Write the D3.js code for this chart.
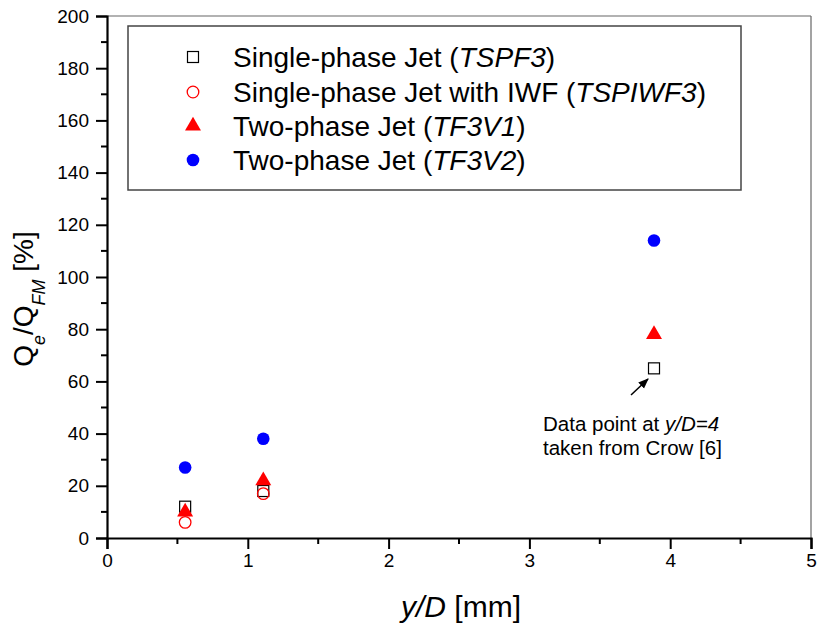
<!DOCTYPE html>
<html><head><meta charset="utf-8">
<script src="https://cdn.jsdelivr.net/npm/d3@7"></script>
<style>body{margin:0;background:#fff}svg{display:block;font-family:Arial,"Liberation Sans",sans-serif}</style>
</head><body>
<svg id="c" width="818" height="628"></svg>
<script>
const xPos = [0.555, 1.11, 3.885];
const tspf3 = [12, 18, 65];
const tspiwf3 = [6, 17];
const tf3v1 = [10, 22, 78];
const tf3v2 = [27, 38, 114];
const xTicks = [0, 1, 2, 3, 4, 5];
const yTicks = [0, 20, 40, 60, 80, 100, 120, 140, 160, 180, 200];

const svg = d3.select("#c");
const x = d3.scaleLinear().domain([0, 5]).range([107, 811]);
const y = d3.scaleLinear().domain([0, 200]).range([538, 16]);

// frame top/right
svg.append("line").attr("x1", x(0)).attr("x2", x(5)).attr("y1", y(200)).attr("y2", y(200)).attr("stroke", "#666").attr("stroke-width", 1.2);
svg.append("line").attr("x1", x(5)).attr("x2", x(5)).attr("y1", y(200)).attr("y2", y(0)).attr("stroke", "#666").attr("stroke-width", 1.2);

// minor ticks
const xMinor = d3.range(0.5, 5, 1);
const yMinor = d3.range(10, 200, 20);
const gx = svg.append("g").attr("transform", `translate(0,${y(0)})`);
gx.selectAll("line.mn").data(xMinor).join("line").attr("x1", d => x(d)).attr("x2", d => x(d)).attr("y1", 0).attr("y2", 6).attr("stroke", "#000").attr("stroke-width", 2);
const xAxis = d3.axisBottom(x).tickValues(xTicks).tickSize(11).tickPadding(5).tickFormat(d3.format("d"));
gx.call(xAxis);
gx.select(".domain").attr("stroke-width", 2.2);
gx.selectAll(".tick line").attr("stroke-width", 2);
gx.selectAll(".tick text").attr("font-size", 19).attr("font-family", "Arial, 'Liberation Sans'").attr("fill", "#000");

const gy = svg.append("g").attr("transform", `translate(${x(0)},0)`);
gy.selectAll("line.mn").data(yMinor).join("line").attr("x1", -6).attr("x2", 0).attr("y1", d => y(d)).attr("y2", d => y(d)).attr("stroke", "#000").attr("stroke-width", 2);
const yAxis = d3.axisLeft(y).tickValues(yTicks).tickSize(11).tickPadding(7);
gy.call(yAxis);
gy.select(".domain").attr("stroke-width", 2.2);
gy.selectAll(".tick line").attr("stroke-width", 2);
gy.selectAll(".tick text").attr("font-size", 19).attr("font-family", "Arial, 'Liberation Sans'").attr("fill", "#000");

// axis titles
const xt = svg.append("text").attr("x", 461).attr("y", 617).attr("text-anchor", "middle").attr("font-size", 30);
xt.append("tspan").attr("font-style", "italic").text("y/D");
xt.append("tspan").text(" [mm]");

const yt = svg.append("text").attr("transform", "translate(33,299) rotate(-90)").attr("text-anchor", "middle").attr("font-size", 28);
yt.append("tspan").text("Q");
yt.append("tspan").attr("font-size", 18).attr("font-style", "italic").attr("dy", 12).text("e");
yt.append("tspan").attr("dy", -12).text("/Q");
yt.append("tspan").attr("font-size", 18).attr("font-style", "italic").attr("dy", 12).text("FM");
yt.append("tspan").attr("dy", -12).text(" [%]");

// markers
const sq = (g, cx, cy) => g.append("rect").attr("x", cx - 5.5).attr("y", cy - 5.5).attr("width", 11).attr("height", 11).attr("fill", "none").attr("stroke", "#000").attr("stroke-width", 1.2);
const oc = (g, cx, cy) => g.append("circle").attr("cx", cx).attr("cy", cy).attr("r", 5.8).attr("fill", "none").attr("stroke", "#f00").attr("stroke-width", 1.3);
const tri = (g, cx, cy) => g.append("path").attr("d", d3.symbol().type(d3.symbolTriangle).size(110)()).attr("transform", `translate(${cx},${cy})`).attr("fill", "#f00");
const bc = (g, cx, cy) => g.append("circle").attr("cx", cx).attr("cy", cy).attr("r", 6.3).attr("fill", "#00f");

const pts = svg.append("g");
tspf3.forEach((v, i) => sq(pts, x(xPos[i]), y(v)));
tspiwf3.forEach((v, i) => oc(pts, x(xPos[i]), y(v)));
tf3v1.forEach((v, i) => tri(pts, x(xPos[i]), y(v)));
tf3v2.forEach((v, i) => bc(pts, x(xPos[i]), y(v)));

// annotation
svg.append("defs").append("marker").attr("id", "ah").attr("viewBox", "0 0 10 10").attr("refX", 9).attr("refY", 5)
  .attr("markerWidth", 7).attr("markerHeight", 7).attr("orient", "auto")
  .append("path").attr("d", "M0,1 L10,5 L0,9 Z").attr("fill", "#000");
svg.append("line").attr("x1", 631).attr("y1", 395).attr("x2", 648).attr("y2", 379).attr("stroke", "#000").attr("stroke-width", 1.5).attr("marker-end", "url(#ah)");
const a1 = svg.append("text").attr("x", 543).attr("y", 431).attr("font-size", 20.5);
a1.append("tspan").text("Data point at ");
a1.append("tspan").attr("font-style", "italic").text("y/D=4");
svg.append("text").attr("x", 543).attr("y", 455).attr("font-size", 20.5).text("taken from Crow [6]");

// legend
const lg = svg.append("g");
lg.append("rect").attr("x", 128).attr("y", 26).attr("width", 613).attr("height", 164).attr("fill", "#fff").attr("stroke", "#444").attr("stroke-width", 1.5);
const legend = [
  { pre: "Single-phase Jet (", it: "TSPF3", m: sq },
  { pre: "Single-phase Jet with IWF (", it: "TSPIWF3", m: oc },
  { pre: "Two-phase Jet (", it: "TF3V1", m: tri },
  { pre: "Two-phase Jet (", it: "TF3V2", m: bc }
];
const rowY = [57, 92, 126, 160];
legend.forEach((d, i) => {
  d.m(lg, 193, rowY[i]);
  const t = lg.append("text").attr("x", 233).attr("y", rowY[i] + 10).attr("font-size", 28);
  t.append("tspan").text(d.pre);
  t.append("tspan").attr("font-style", "italic").text(d.it);
  t.append("tspan").text(")");
});
</script>
</body></html>
